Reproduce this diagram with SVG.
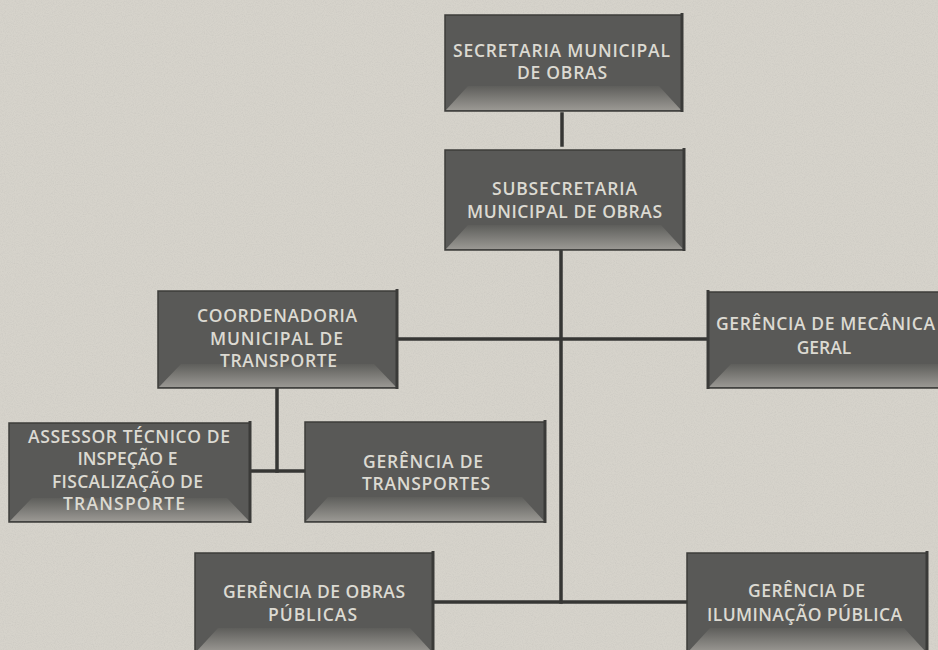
<svg xmlns="http://www.w3.org/2000/svg" width="938" height="650" viewBox="0 0 938 650">
<style>
.box{fill:#595957;stroke:#3c3c3a;stroke-width:1.5}
.bev{fill:url(#bevg)}
.edge{stroke:#3a3a38;stroke-width:3}
.t{font-family:"Open Sans","Liberation Sans",sans-serif;font-weight:600;font-size:17.5px;fill:#dcdad2;text-anchor:middle}
.c{stroke:#363634;stroke-width:3.5;fill:none;stroke-linecap:square}
</style>
<defs>
<linearGradient id="bevg" x1="0" y1="0" x2="0" y2="1">
<stop offset="0" stop-color="#5e5e5b"/>
<stop offset="1" stop-color="#9a9893"/>
</linearGradient>
<filter id="grain" x="0" y="0" width="100%" height="100%">
<feTurbulence type="fractalNoise" baseFrequency="0.9" numOctaves="2" seed="3"/>
<feColorMatrix type="matrix" values="0 0 0 0 0.45  0 0 0 0 0.44  0 0 0 0 0.42  0 0 0 0.9 -0.35"/>
</filter>
</defs>
<rect width="938" height="650" fill="#d6d3cb"/>
<rect width="938" height="650" filter="url(#grain)" opacity="0.5"/>

<g id="connectors">
<line class="c" x1="562" y1="114" x2="562" y2="145"/>
<line class="c" x1="561" y1="250" x2="561" y2="602"/>
<line class="c" x1="397" y1="339" x2="708" y2="339"/>
<line class="c" x1="277" y1="388" x2="277" y2="471"/>
<line class="c" x1="250" y1="471" x2="305" y2="471"/>
<line class="c" x1="433" y1="602" x2="687" y2="602"/>
</g>

<g id="n-secretaria">
<rect class="box" x="445" y="15" width="237" height="96"/>
<polygon class="bev" points="446,110 681,110 659,86 468,86"/>
<line class="edge" x1="682" y1="13" x2="682" y2="112"/>
<text class="t" x="561.5" y="57" textLength="217" lengthAdjust="spacing">SECRETARIA MUNICIPAL</text>
<text class="t" x="562" y="79" textLength="90" lengthAdjust="spacing">DE OBRAS</text>
</g>

<g id="n-subsecretaria">
<rect class="box" x="445" y="150" width="239" height="100"/>
<polygon class="bev" points="446,249 683,249 661,225 468,225"/>
<line class="edge" x1="684" y1="148" x2="684" y2="251"/>
<text class="t" x="564.5" y="195" textLength="145" lengthAdjust="spacing">SUBSECRETARIA</text>
<text class="t" x="564.5" y="218" textLength="195" lengthAdjust="spacing">MUNICIPAL DE OBRAS</text>
</g>

<g id="n-coordenadoria">
<rect class="box" x="158" y="291" width="239" height="97"/>
<polygon class="bev" points="159,387 396,387 374,364 181,364"/>
<line class="edge" x1="397" y1="289" x2="397" y2="389"/>
<text class="t" x="277" y="322" textLength="160" lengthAdjust="spacing">COORDENADORIA</text>
<text class="t" x="276.5" y="345" textLength="133" lengthAdjust="spacing">MUNICIPAL DE</text>
<text class="t" x="278.5" y="367" textLength="117" lengthAdjust="spacing">TRANSPORTE</text>
</g>

<g id="n-mecanica">
<rect class="box" x="708" y="292" width="232" height="96"/>
<polygon class="bev" points="709,387 938,387 938,364 731,364"/>
<line class="edge" x1="708" y1="290" x2="708" y2="389"/>
<text class="t" x="825.5" y="330" textLength="219" lengthAdjust="spacing">GERÊNCIA DE MECÂNICA</text>
<text class="t" x="824" y="354">GERAL</text>
</g>

<g id="n-assessor">
<rect class="box" x="9" y="423" width="241" height="99"/>
<polygon class="bev" points="10,521 249,521 227,498 32,498"/>
<line class="edge" x1="250" y1="421" x2="250" y2="523"/>
<text class="t" x="129" y="443" textLength="202" lengthAdjust="spacing">ASSESSOR TÉCNICO DE</text>
<text class="t" x="127.5" y="465">INSPEÇÃO E</text>
<text class="t" x="127.5" y="488" textLength="151" lengthAdjust="spacing">FISCALIZAÇÃO DE</text>
<text class="t" x="124" y="510" textLength="122" lengthAdjust="spacing">TRANSPORTE</text>
</g>

<g id="n-transportes">
<rect class="box" x="305" y="422" width="240" height="100"/>
<polygon class="bev" points="306,521 544,521 522,497 328,497"/>
<line class="edge" x1="545" y1="420" x2="545" y2="523"/>
<text class="t" x="423" y="468" textLength="120" lengthAdjust="spacing">GERÊNCIA DE</text>
<text class="t" x="426" y="490" textLength="128" lengthAdjust="spacing">TRANSPORTES</text>
</g>

<g id="n-obras">
<rect class="box" x="195" y="553" width="238" height="100"/>
<polygon class="bev" points="196,652 432,652 410,628 218,628"/>
<line class="edge" x1="433" y1="551" x2="433" y2="652"/>
<text class="t" x="314" y="598" textLength="182" lengthAdjust="spacing">GERÊNCIA DE OBRAS</text>
<text class="t" x="312.5" y="621" textLength="89" lengthAdjust="spacing">PÚBLICAS</text>
</g>

<g id="n-iluminacao">
<rect class="box" x="687" y="553" width="240" height="100"/>
<polygon class="bev" points="688,652 926,652 904,628 710,628"/>
<line class="edge" x1="927" y1="551" x2="927" y2="652"/>
<text class="t" x="806.5" y="597" textLength="117" lengthAdjust="spacing">GERÊNCIA DE</text>
<text class="t" x="804.5" y="621" textLength="195" lengthAdjust="spacing">ILUMINAÇÃO PÚBLICA</text>
</g>
</svg>
